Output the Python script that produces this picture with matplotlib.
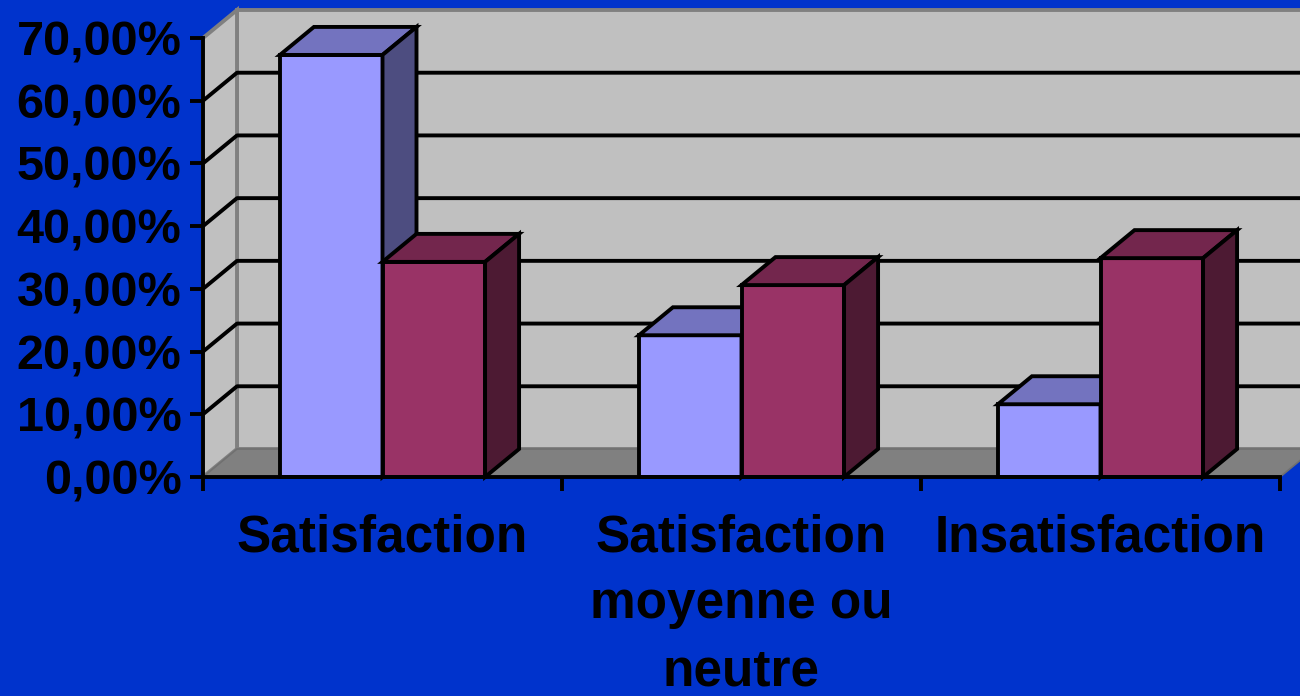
import matplotlib.pyplot as plt
from matplotlib.patches import Polygon

categories = ['Satisfaction', 'Satisfaction\nmoyenne ou\nneutre', 'Insatisfaction']
serie1 = [67.3, 22.6, 11.6]
serie2 = [34.3, 30.6, 34.9]
yticks = [0, 10, 20, 30, 40, 50, 60, 70]
ytick_labels = ['0,00%', '10,00%', '20,00%', '30,00%', '40,00%', '50,00%', '60,00%', '70,00%']

plt.rcParams['font.family'] = ['Liberation Sans', 'DejaVu Sans']
plt.rcParams['font.weight'] = 'bold'

bg = '#0033CC'
wall = '#C0C0C0'
edge = '#808080'
floor = '#808080'
col1 = ('#9999FF', '#7373BF', '#4D4D80')
col2 = ('#993366', '#73264D', '#4D1A33')
lw = 2.8

fig = plt.figure(figsize=(13, 6.96), dpi=100, facecolor=bg)
ax = fig.add_axes([203 / 1300, (696 - 477) / 696, (1280 - 203) / 1300, (477 - 38) / 696])
ax.set_facecolor('none')
ax.set_xlim(0, 3)
ax.set_ylim(0, 70)

# depth of the 3d box in data units
dx = 34 / 359
dy = 28 / 6.271
ymax = 70

# walls and floor
ax.add_patch(Polygon([(dx, dy), (3 + dx, dy), (3 + dx, ymax + dy), (dx, ymax + dy)],
                     fc=wall, ec=edge, lw=lw, clip_on=False, zorder=1))
ax.add_patch(Polygon([(0, 0), (dx, dy), (dx, ymax + dy), (0, ymax)],
                     fc=wall, ec=edge, lw=lw, clip_on=False, zorder=1))
ax.add_patch(Polygon([(0, 0), (3, 0), (3 + dx, dy), (dx, dy)],
                     fc=floor, ec='#707070', lw=1.2, clip_on=False, zorder=1.2))

# gridlines
for v in yticks[1:-1]:
    ax.plot([0, dx, 3 + dx], [v, v + dy, v + dy], color='black', lw=lw,
            clip_on=False, zorder=1.5, solid_capstyle='butt')

# bars
width = 1 / 3.5
gap = 0.75 / 3.5


def bar3d(x0, v, cols, z):
    x1 = x0 + width
    ax.add_patch(Polygon([(x0, 0), (x1, 0), (x1, v), (x0, v)],
                         fc=cols[0], ec='black', lw=lw, clip_on=False, zorder=z, joinstyle='miter'))
    ax.add_patch(Polygon([(x0, v), (x1, v), (x1 + dx, v + dy), (x0 + dx, v + dy)],
                         fc=cols[1], ec='black', lw=lw, clip_on=False, zorder=z, joinstyle='miter'))
    ax.add_patch(Polygon([(x1, 0), (x1 + dx, dy), (x1 + dx, v + dy), (x1, v)],
                         fc=cols[2], ec='black', lw=lw, clip_on=False, zorder=z, joinstyle='miter'))


z = 3
for i in range(len(categories)):
    bar3d(i + gap, serie1[i], col1, z)
    z += 0.1
    bar3d(i + gap + width, serie2[i], col2, z)
    z += 0.1

# axes
for s in ['top', 'right']:
    ax.spines[s].set_visible(False)
for s in ['left', 'bottom']:
    ax.spines[s].set_linewidth(lw)
    ax.spines[s].set_zorder(10)

ax.set_yticks(yticks)
ax.set_yticklabels(ytick_labels)
ax.set_xticks([0, 1, 2, 3])
ax.set_xticklabels([])
ax.set_xticks([0.5, 1.5, 2.5], minor=True)
ax.set_xticklabels(categories, minor=True, linespacing=1.48)
ax.tick_params(axis='y', length=9.5, width=lw, pad=6, labelsize=35)
ax.tick_params(axis='x', which='major', length=10, width=lw)
ax.tick_params(axis='x', which='minor', length=0, pad=26, labelsize=37)

fig.savefig('out.png', dpi=100, facecolor=bg)
